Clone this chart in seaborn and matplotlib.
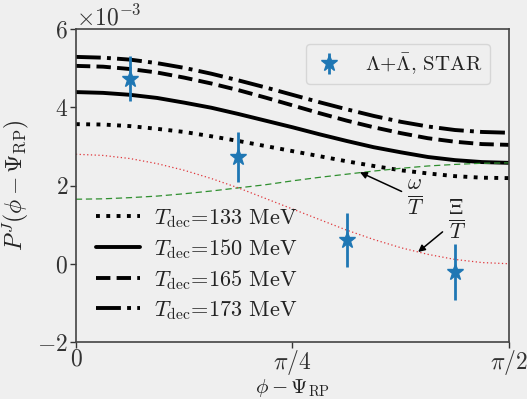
import numpy as np
import pandas as pd
import matplotlib
matplotlib.use("Agg")
import matplotlib.pyplot as plt
import seaborn as sns

# azimuthal angle grid, phi - Psi_RP in units of pi/32
phi_steps = list(range(17))

# global polarization P^J (in units of 1e-3) for several decoupling temperatures
p_133 = [3.57, 3.56, 3.52, 3.45, 3.37, 3.26, 3.14, 3.01, 2.88,
         2.75, 2.62, 2.50, 2.39, 2.31, 2.24, 2.20, 2.19]
p_150 = [4.39, 4.37, 4.32, 4.24, 4.12, 3.99, 3.83, 3.66, 3.49,
         3.31, 3.14, 2.98, 2.85, 2.73, 2.65, 2.60, 2.58]
p_165 = [5.06, 5.04, 4.98, 4.89, 4.76, 4.61, 4.44, 4.25, 4.05,
         3.85, 3.66, 3.49, 3.34, 3.21, 3.12, 3.06, 3.04]
p_173 = [5.29, 5.27, 5.22, 5.13, 5.01, 4.86, 4.69, 4.51, 4.32,
         4.13, 3.95, 3.78, 3.63, 3.51, 3.42, 3.37, 3.35]

# separate contributions: vorticity (omega/T) and thermal shear (Xi/T)
p_omega = [1.65, 1.66, 1.69, 1.73, 1.79, 1.86, 1.94, 2.02, 2.12,
           2.21, 2.29, 2.37, 2.44, 2.50, 2.54, 2.57, 2.58]
p_xi = [2.80, 2.77, 2.69, 2.56, 2.39, 2.18, 1.94, 1.67, 1.40,
        1.13, 0.86, 0.62, 0.41, 0.24, 0.11, 0.03, 0.00]

temps = [133, 150, 165, 173]

# STAR Lambda + anti-Lambda measurement (phi in units of pi/16)
star_steps = [1, 3, 5, 7]
star_val = [4.73, 2.73, 0.61, -0.21]
star_err = [0.58, 0.65, 0.69, 0.72]

scale = 1e-3
phi = np.array(phi_steps) * np.pi / 32
star_phi = np.array(star_steps) * np.pi / 16

sns.set_style("ticks")
bg = "#efefef"
plt.rcParams.update({
    "font.family": "serif",
    "font.serif": ["cmr10", "DejaVu Serif"],
    "mathtext.fontset": "cm",
    "axes.formatter.use_mathtext": True,
    "axes.unicode_minus": True,
    "font.size": 16,
    "axes.edgecolor": "#444444",
    "xtick.color": "#333333",
    "ytick.color": "#333333",
    "text.color": "#222222",
    "axes.labelcolor": "#222222",
})

fig = plt.figure(figsize=(5.27, 3.99), dpi=100, facecolor=bg)
ax = fig.add_axes([0.144, 0.143, 0.822, 0.784], facecolor=bg)

styles = [":", "-", "--", "-."]
series = [p_133, p_150, p_165, p_173]
line_handles = []
for t, vals, ls in zip(temps, series, styles):
    df = pd.DataFrame({"phi": phi, "P": np.array(vals) * scale})
    sns.lineplot(data=df, x="phi", y="P", ax=ax, color="black", lw=2.8,
                 linestyle=ls, label=r"$T_{\rm dec}$=%d MeV" % t)
    line_handles.append(ax.lines[-1])

sns.lineplot(x=phi, y=np.array(p_omega) * scale, ax=ax, color="#2f8f2f",
             lw=0.9, linestyle=(0, (5, 3)), legend=False)
sns.lineplot(x=phi, y=np.array(p_xi) * scale, ax=ax, color="#e0353a",
             lw=0.9, linestyle=(0, (1, 2)), legend=False)

star = ax.errorbar(star_phi, np.array(star_val) * scale,
                   yerr=np.array(star_err) * scale, fmt="*", color="#1f77b4",
                   markersize=12, elinewidth=2, capsize=0, zorder=5,
                   label=r"$\Lambda$+$\bar{\Lambda}$, STAR")

ax.set_xlim(0, np.pi / 2)
ax.set_ylim(-2e-3, 6e-3)
ax.set_xticks([0, np.pi / 4, np.pi / 2])
ax.set_xticklabels(["0", r"$\pi/4$", r"$\pi/2$"])
ax.set_yticks(np.array([-2, 0, 2, 4, 6]) * scale)
ax.ticklabel_format(axis="y", style="sci", scilimits=(0, 0))
ax.set_xlabel(r"$\phi-\Psi_{\rm RP}$", labelpad=0, fontsize=15)
ax.set_ylabel(r"$P^J(\phi-\Psi_{\rm RP})$", fontsize=17, labelpad=4)
ax.tick_params(direction="out", length=4, width=1, pad=1.5, labelsize=17)
ax.tick_params(axis="x", pad=0.5)
ax.yaxis.get_offset_text().set_fontsize(17)
for s in ax.spines.values():
    s.set_linewidth(1.2)

ax.annotate(r"$\frac{\omega}{T}$", xy=(1.03, 2.34e-3), xytext=(1.233, 1.68e-3),
            fontsize=22, ha="center", va="center",
            arrowprops=dict(arrowstyle="-|>", color="black", lw=1.1,
                            mutation_scale=10, shrinkA=2, shrinkB=0))
ax.annotate(r"$\frac{\Xi}{T}$", xy=(1.241, 0.30e-3), xytext=(1.382, 1.12e-3),
            fontsize=22, ha="center", va="center",
            arrowprops=dict(arrowstyle="-|>", color="black", lw=1.1,
                            mutation_scale=10, shrinkA=2, shrinkB=0))

leg1 = ax.legend(handles=line_handles,
                 labels=[r"$T_{\rm dec}$=%d MeV" % t for t in temps],
                 loc="lower left", frameon=False, fontsize=16,
                 handlelength=2.0, labelspacing=0.33, handletextpad=0.6,
                 bbox_to_anchor=(0.0, 0.0))
ax.add_artist(leg1)
ax.legend(handles=[star], loc="upper right", fontsize=15, frameon=True,
          facecolor=bg, edgecolor="#d0d0d0", handlelength=1.5,
          handletextpad=1.0, borderpad=0.35, bbox_to_anchor=(0.98, 0.985))

fig.savefig("out.png", dpi=100, facecolor=bg)
